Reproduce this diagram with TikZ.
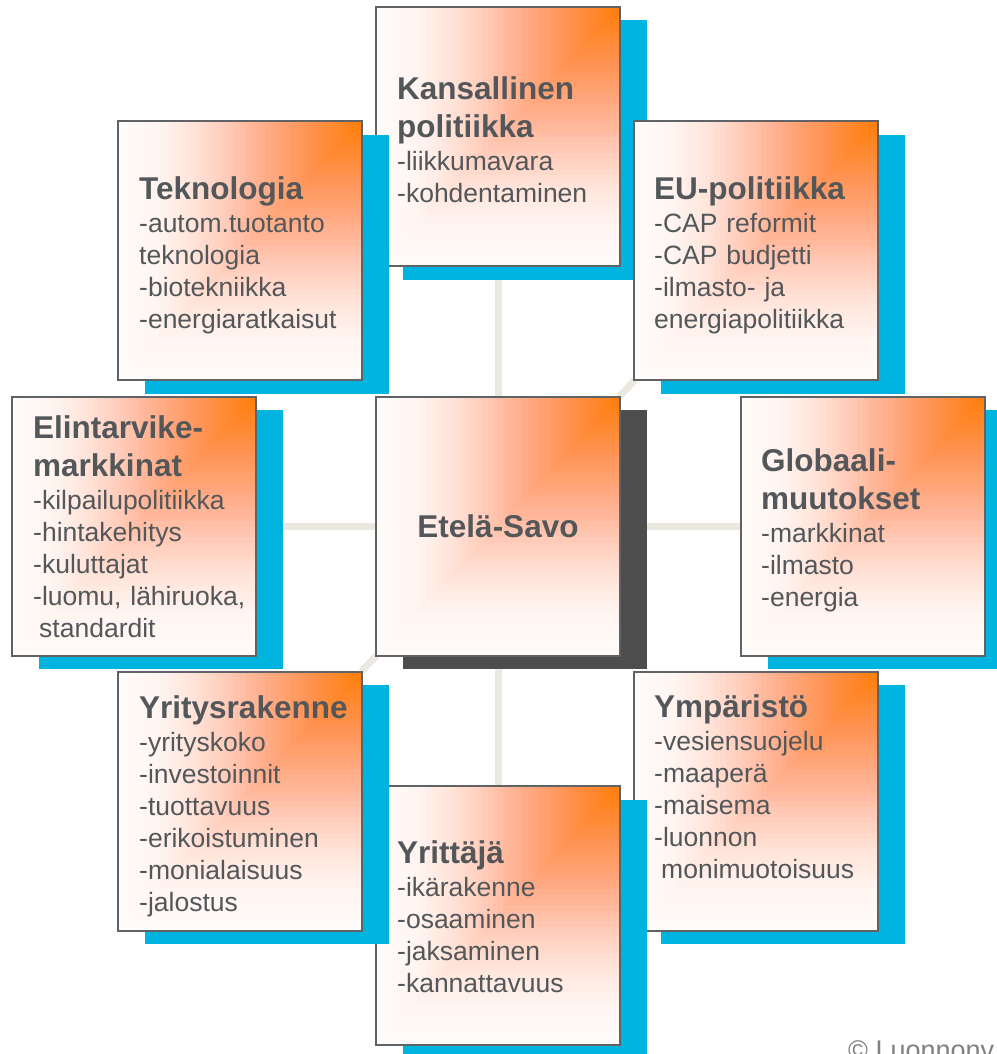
\documentclass[tikz,border=0pt]{standalone}
\usepackage{fontspec}
\setmainfont{Liberation Sans}
\usetikzlibrary{shadows}
\setlength{\parindent}{0pt}
\definecolor{cyanS}{RGB}{0,180,224}
\definecolor{dshad}{RGB}{77,77,77}
\definecolor{bord}{RGB}{95,99,102}
\definecolor{txt}{RGB}{83,87,90}
\definecolor{lineC}{RGB}{235,233,223}
\definecolor{copyC}{RGB}{128,128,128}
\definecolor{gG}{RGB}{255,252,250}
\pgfdeclarelayer{bg}
\pgfsetlayers{bg,main}
\newcommand\ttlf{\fontsize{31.5}{38.5}\selectfont\bfseries}
\newcommand\bdyf{\fontsize{26.5}{32}\selectfont}
% rectangular gradient from the top-right corner
\newcommand\cornerglow{%
  \foreach \i in {48,47,...,1}{%
    \pgfmathsetmacro\tv{\i/48}%
    \pgfmathtruncatemacro\gv{\tv<0.1 ? 125+10*\tv/0.1 : (\tv<0.25 ? 135+15*(\tv-0.1)/0.15 : (\tv<0.4 ? 150+22*(\tv-0.25)/0.15 : (\tv<0.55 ? 172+28*(\tv-0.4)/0.15 : (\tv<0.7 ? 200+28*(\tv-0.55)/0.15 : (\tv<0.85 ? 228+18*(\tv-0.7)/0.15 : 246+6*(\tv-0.85)/0.15)))))}%
    \pgfmathtruncatemacro\bv{\tv<0.1 ? 5+35*\tv/0.1 : (\tv<0.25 ? 40+50*(\tv-0.1)/0.15 : (\tv<0.4 ? 90+45*(\tv-0.25)/0.15 : (\tv<0.55 ? 135+45*(\tv-0.4)/0.15 : (\tv<0.7 ? 180+38*(\tv-0.55)/0.15 : (\tv<0.85 ? 218+24*(\tv-0.7)/0.15 : 242+8*(\tv-0.85)/0.15)))))}%
    \definecolor{curglow}{RGB}{255,\gv,\bv}%
    \fill[curglow] (path picture bounding box.north east) rectangle ++({-244pt*\tv},{-260pt*\tv});
  }}
\tikzset{
  box/.style={draw=bord, fill=gG, line width=2pt, minimum width=244pt, minimum height=259pt,
    inner sep=0pt, outer sep=0pt,
    path picture={\cornerglow},
    drop shadow={shadow xshift=27pt, shadow yshift=-13.5pt, fill=cyanS, opacity=1, fill opacity=1}},
  cbox/.style={box, drop shadow={shadow xshift=27pt, shadow yshift=-13.5pt, fill=dshad, opacity=1, fill opacity=1}},
  lbl/.style={anchor=north west, inner sep=0pt, text width=235pt, align=left, text=txt, font=\bdyf},
  conn/.style={draw=lineC, line width=7pt},
}
\begin{document}
\begin{tikzpicture}[x=1pt, y=-1pt]
\useasboundingbox (0,0) rectangle (996,1054);
\begin{pgfonlayer}{bg}
\fill[white] (0,0) rectangle (996,1054);
\end{pgfonlayer}

% boxes in stacking order
\node[box] (kans) at (498,136.5) {};
\node[lbl] (kanst) at (397,76.4) {{\ttlf Kansallinen\\politiikka\par}\vskip1pt -liikkumavara\\-kohdentaminen};

\node[box] (tek) at (240,250.5) {};
\node[lbl] (tekt) at (139,176.4) {{\ttlf Teknologia\par}\vskip1pt -autom.tuotanto\\teknologia\\-biotekniikka\\-energiaratkaisut};

\node[box] (eu) at (755.5,250.5) {};
\node[lbl] (eut) at (654,176.4) {{\ttlf EU-politiikka\par}\vskip1pt -CAP reformit\\-CAP budjetti\\-ilmasto- ja\\energiapolitiikka};

\node[box] (elin) at (134,526) {};
\node[lbl] (elint) at (33,415.4) {{\ttlf Elintarvike-\\markkinat\par}\vskip1pt -kilpailupolitiikka\\-hintakehitys\\-kuluttajat\\-luomu, lähiruoka,\\\hspace*{6pt}standardit};

\node[cbox, text=txt, font=\ttlf] (cent) at (498,526) {Etelä-Savo};

\node[box] (glob) at (862.5,526) {};
\node[lbl] (globt) at (761,448.4) {{\ttlf Globaali-\\muutokset\par}\vskip1pt -markkinat\\-ilmasto\\-energia};

\node[box] (ymp) at (756,801) {};
\node[lbl] (ympt) at (654,694.4) {{\ttlf Ympäristö\par}\vskip1pt -vesiensuojelu\\-maaperä\\-maisema\\-luonnon\\\hspace*{7pt}monimuotoisuus};

\node[box] (yrit) at (498,915.5) {};
\node[lbl] (yritt) at (397,840.4) {{\ttlf Yrittäjä\par}\vskip1pt -ikärakenne\\-osaaminen\\-jaksaminen\\-kannattavuus};

\node[box] (yrs) at (240,801) {};
\node[lbl] (yrst) at (139,695.4) {{\ttlf Yritysrakenne\par}\vskip1pt -yrityskoko\\-investoinnit\\-tuottavuus\\-erikoistuminen\\-monialaisuus\\-jalostus};

\node[anchor=base west, inner sep=0pt, text=copyC, font=\fontsize{27}{30}\selectfont] (copy) at (848,1059.5) {© Luonnonv};

% connectors behind everything
\begin{pgfonlayer}{bg}
\draw[conn] (cent) -- (kans);
\draw[conn] (cent) -- (eu);
\draw[conn] (cent) -- (elin);
\draw[conn] (cent) -- (glob);
\draw[conn] (cent) -- (yrs);
\draw[conn] (cent) -- (yrit);
\end{pgfonlayer}
\end{tikzpicture}
\end{document}
